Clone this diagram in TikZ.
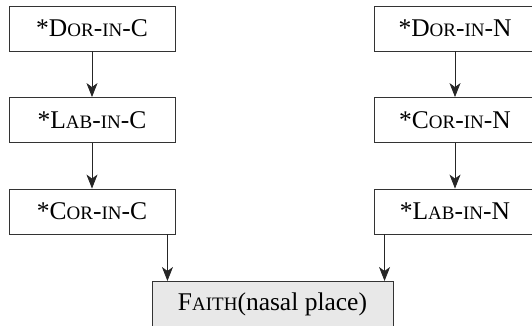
\documentclass[tikz,border=0pt]{standalone}
\usepackage{fontspec}
\setmainfont{LiberationSerif}[Extension=.ttf,UprightFont=*-Regular,BoldFont=*-Bold,ItalicFont=*-Italic,BoldItalicFont=*-BoldItalic]
\usetikzlibrary{arrows.meta}
\newcommand{\mysc}[1]{{\fontsize{19}{22}\selectfont #1}}
\begin{document}
\begin{tikzpicture}[x=1pt,y=-1pt,
  box/.style={draw=black!80,line width=0.9pt,minimum height=45pt,inner sep=0pt,
    font=\rmfamily\fontsize{25.5}{28}\selectfont},
  lbox/.style={box,minimum width=166pt},
  rbox/.style={box,minimum width=162pt},
  fbox/.style={box,fill=black!9,minimum width=241pt,minimum height=64pt},
  arr/.style={draw=black!85,line width=0.8pt,-{Stealth[length=14pt,width=11pt,inset=4pt]}}]
\useasboundingbox (0,0) rectangle (532,325);
\clip (0,0) rectangle (532,325);
\node[lbox] (c1) at (92,28.5) {*D\mysc{OR}-\mysc{IN}-C};
\node[lbox] (c2) at (92,120) {*L\mysc{AB}-\mysc{IN}-C};
\node[lbox] (c3) at (92,211.5) {*C\mysc{OR}-\mysc{IN}-C};
\node[rbox] (n1) at (455,28.5) {*D\mysc{OR}-\mysc{IN}-N};
\node[rbox] (n2) at (455,120) {*C\mysc{OR}-\mysc{IN}-N};
\node[rbox] (n3) at (455,211.5) {*L\mysc{AB}-\mysc{IN}-N};
\node[fbox,anchor=north,text depth=23pt] (f) at (272.5,281) {F\mysc{AITH}(nasal place)};
\draw[arr] (c1) -- (c2);
\draw[arr] (c2) -- (c3);
\draw[arr] (n1) -- (n2);
\draw[arr] (n2) -- (n3);
\draw[arr] ([xshift=-8pt]c3.south east) -- ([xshift=-8pt]c3.south east |- f.north);
\draw[arr] ([xshift=11pt]n3.south west) -- ([xshift=11pt]n3.south west |- f.north);
\end{tikzpicture}
\end{document}
